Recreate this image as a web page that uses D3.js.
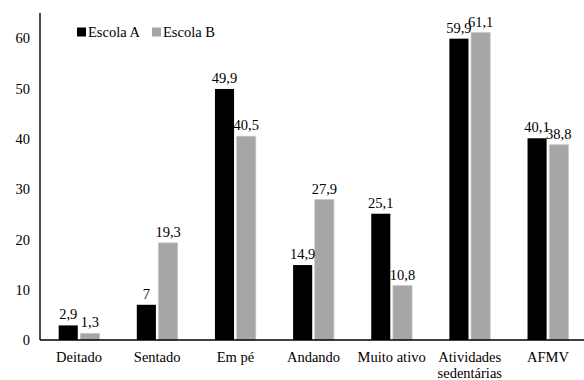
<!DOCTYPE html>
<html>
<head>
<meta charset="utf-8">
<script src="https://cdn.jsdelivr.net/npm/d3@7"></script>
<style>
  html, body { margin: 0; padding: 0; background: #fff; }
  svg { display: block; }
</style>
</head>
<body>
<svg id="chart" width="584" height="380"></svg>
<script>
// Activity categories (label lines) and the share per school
const categories = ["Deitado", "Sentado", "Em pé", "Andando", "Muito ativo", "Atividades sedentárias", "AFMV"];
const categoryLines = [["Deitado"], ["Sentado"], ["Em pé"], ["Andando"], ["Muito ativo"], ["Atividades", "sedentárias"], ["AFMV"]];
const seriesNames = ["Escola A", "Escola B"];
const escolaA = [2.9, 7, 49.9, 14.9, 25.1, 59.9, 40.1];
const escolaB = [1.3, 19.3, 40.5, 27.9, 10.8, 61.1, 38.8];
const yTicks = [0, 10, 20, 30, 40, 50, 60];
const colors = ["#000000", "#a6a6a6"];

const fmt = v => String(v).replace(".", ",");
const serif = "'Liberation Serif'";
const fontSize = "14.5px";

const svg = d3.select("#chart");
const plotLeft = 40, plotRight = 587, plotTop = 13, plotBottom = 340;

const x = d3.scaleBand().domain(categories).range([plotLeft, plotRight]).padding(0);
const x1 = d3.scaleBand().domain(seriesNames).range([0, x.bandwidth()])
  .paddingInner(0.12).paddingOuter(0.86);
const y = d3.scaleLinear().domain([0, 65]).range([plotBottom, plotTop]);

const rows = categories.map((c, i) => ({ cat: c, values: [escolaA[i], escolaB[i]] }));

// Y axis: tick labels only, plus the vertical line
const yAxis = d3.axisLeft(y).tickValues(yTicks).tickSize(0).tickPadding(10).tickFormat(d3.format("d"));
const gy = svg.append("g").attr("transform", `translate(${plotLeft},0)`).call(yAxis);
gy.select(".domain").remove();
gy.attr("font-family", null).attr("font-size", null);
gy.selectAll("text").attr("fill", "#000").attr("font-family", serif).attr("font-size", fontSize);
svg.append("line").attr("x1", plotLeft).attr("x2", plotLeft).attr("y1", y(65)).attr("y2", y(0))
  .attr("stroke", "#000").attr("stroke-width", 1.4);

// Bars
const groups = svg.append("g").selectAll("g").data(rows).join("g")
  .attr("transform", d => `translate(${x(d.cat)},0)`);

groups.selectAll("rect").data(d => d.values.map((v, k) => ({ s: seriesNames[k], v, k })))
  .join("rect")
  .attr("x", d => x1(d.s))
  .attr("width", x1.bandwidth())
  .attr("y", d => y(d.v))
  .attr("height", d => y(0) - y(d.v))
  .attr("fill", d => colors[d.k])
  .attr("stroke", d => d.k === 1 ? "#c4c4c4" : "none")
  .attr("stroke-width", 0.8);

groups.selectAll("text.val").data(d => d.values.map((v, k) => ({ s: seriesNames[k], v, k })))
  .join("text").attr("class", "val")
  .attr("x", d => x1(d.s) + x1.bandwidth() / 2)
  .attr("y", d => y(d.v) - 6)
  .attr("text-anchor", "middle")
  .attr("font-family", serif)
  .attr("font-size", fontSize)
  .text(d => fmt(d.v));

// X axis baseline
svg.append("line").attr("x1", plotLeft).attr("x2", plotRight).attr("y1", y(0)).attr("y2", y(0))
  .attr("stroke", "#000").attr("stroke-width", 1.4);

// Category labels
const xl = svg.append("g").selectAll("text").data(categories).join("text")
  .attr("x", d => x(d) + x.bandwidth() / 2)
  .attr("y", 362)
  .attr("text-anchor", "middle")
  .attr("font-family", serif)
  .attr("font-size", fontSize);
xl.each(function(d, i) {
  const t = d3.select(this);
  categoryLines[i].forEach((ln, j) => {
    t.append("tspan").attr("x", x(d) + x.bandwidth() / 2).attr("dy", j === 0 ? 0 : 16).text(ln);
  });
});

// Legend
const legend = svg.append("g");
const legendX = [77, 152];
seriesNames.forEach((name, k) => {
  legend.append("rect").attr("x", legendX[k]).attr("y", 27.5).attr("width", 9).attr("height", 9)
    .attr("fill", colors[k]);
  legend.append("text").attr("x", legendX[k] + 11).attr("y", 36.5)
    .attr("font-family", serif).attr("font-size", fontSize).text(name);
});
</script>
</body>
</html>
